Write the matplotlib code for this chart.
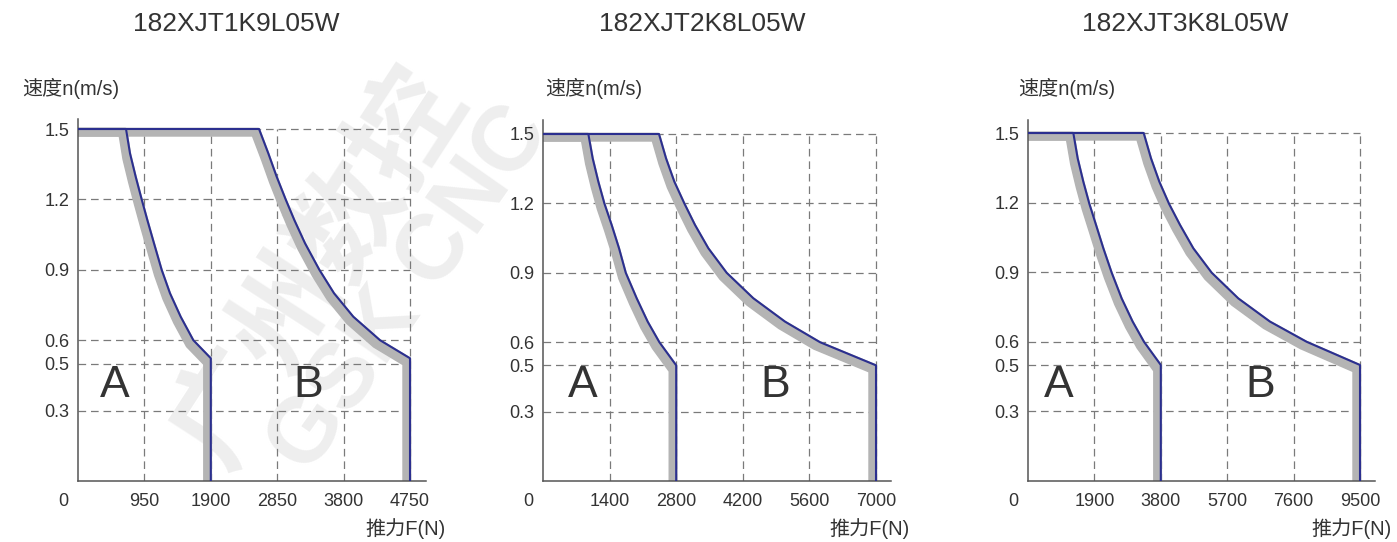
import matplotlib
matplotlib.use('Agg')
import matplotlib.pyplot as plt
import matplotlib.transforms as mtransforms
import numpy as np

plt.rcParams['lines.scale_dashes'] = False

W, H, DPI = 1397, 542, 100

# ---------------- data ----------------
titles = ['182XJT1K9L05W', '182XJT2K8L05W', '182XJT3K8L05W']
x_ticks_1 = [950, 1900, 2850, 3800, 4750]
x_ticks_2 = [1400, 2800, 4200, 5600, 7000]
x_ticks_3 = [1900, 3800, 5700, 7600, 9500]
y_ticks = [0.3, 0.5, 0.6, 0.9, 1.2, 1.5]
y_label = '速度n(m/s)'
x_label = '推力F(N)'
region_labels = ['A', 'B']
watermark_cn = '广州数控'
watermark_en = 'GSK CNC'

a1_force = [0, 687, 744, 825, 911, 992, 1087, 1197, 1316, 1469, 1650, 1900, 1900]
a1_speed = [1.5, 1.5, 1.396, 1.297, 1.2, 1.112, 1.013, 0.9, 0.8, 0.7, 0.6, 0.523, 0]
b1_force = [0, 2590, 2723, 2842, 2971, 3095, 3248, 3453, 3663, 3939, 4321, 4750, 4750]
b1_speed = [1.5, 1.5, 1.396, 1.297, 1.2, 1.112, 1.013, 0.9, 0.8, 0.7, 0.6, 0.523, 0]

a2_force = [0, 953, 1044, 1163, 1290, 1443, 1598, 1740, 1969, 2200, 2446, 2800, 2800]
a2_speed = [1.5, 1.5, 1.395, 1.294, 1.2, 1.107, 1.006, 0.9, 0.79, 0.689, 0.6, 0.5, 0]
b2_force = [0, 2438, 2586, 2761, 2971, 3195, 3476, 3861, 4421, 5087, 5823, 7000, 7000]
b2_speed = [1.5, 1.5, 1.395, 1.294, 1.2, 1.107, 1.006, 0.9, 0.79, 0.689, 0.6, 0.5, 0]

a3_force = [0, 1297, 1421, 1583, 1755, 1946, 2156, 2394, 2680, 2995, 3319, 3800, 3800]
a3_speed = [1.5, 1.5, 1.391, 1.29, 1.195, 1.104, 1.003, 0.898, 0.787, 0.687, 0.6, 0.5, 0]
b3_force = [0, 3310, 3519, 3758, 4035, 4349, 4731, 5255, 6018, 6925, 7974, 9500, 9500]
b3_speed = [1.5, 1.5, 1.391, 1.29, 1.195, 1.104, 1.003, 0.898, 0.787, 0.687, 0.6, 0.5, 0]

panels = [
    dict(title=titles[0], xt=x_ticks_1, A=(a1_force, a1_speed), B=(b1_force, b1_speed)),
    dict(title=titles[1], xt=x_ticks_2, A=(a2_force, a2_speed), B=(b2_force, b2_speed)),
    dict(title=titles[2], xt=x_ticks_3, A=(a3_force, a3_speed), B=(b3_force, b3_speed)),
]

# ---------------- layout (pixels) ----------------
layout = [
    dict(x0=78, xm=410, xr=426, y15=129, yt=119, tc=236, yl=22, xl=446, ax_=115, bx=308),
    dict(x0=543, xm=876, xr=891, y15=134, yt=120, tc=702, yl=545, xl=910, ax_=583, bx=775),
    dict(x0=1028, xm=1360, xr=1375, y15=133, yt=120, tc=1185, yl=1018, xl=1392, ax_=1059, bx=1260),
]
Y0 = 481

LATIN = 'Liberation Sans'
FAM = [LATIN, 'Noto Sans CJK SC', 'DejaVu Sans']
TXT = '#333333'
BLUE = '#2b2f8f'
GRAY = '#b4b4b4'
GRID = '#7a7a7a'
WM = '#eeeeee'

fig = plt.figure(figsize=(W / DPI, H / DPI), dpi=DPI)
fig.patch.set_facecolor('white')


def fx(px):
    return px / W


def fy(py):
    return 1 - py / H


# faint watermark behind everything
fig.text(fx(318), fy(268), watermark_cn, rotation=57, fontsize=80, fontweight='bold',
         color=WM, ha='center', va='center', family=['Noto Sans CJK SC'], zorder=-5)
fig.text(fx(410), fy(290), watermark_en, rotation=55, fontsize=66, fontweight='bold',
         color=WM, ha='center', va='center', family=[LATIN], zorder=-5)

for p, L in zip(panels, layout):
    xmax = p['xt'][-1]
    left = fx(L['x0'])
    width = (L['xr'] - L['x0']) / W
    bottom = 1 - Y0 / H
    height = (Y0 - L['yt']) / H
    ax = fig.add_axes([left, bottom, width, height])
    ax.set_facecolor('none')
    ax.set_xlim(0, xmax * (L['xr'] - L['x0']) / (L['xm'] - L['x0']))
    ax.set_ylim(0, 1.5 * (Y0 - L['yt']) / (Y0 - L['y15']))

    for s in ['top', 'right']:
        ax.spines[s].set_visible(False)
    for s in ['left', 'bottom']:
        ax.spines[s].set_color('#555555')
        ax.spines[s].set_linewidth(1.1)

    # dashed grid limited to data range
    ax.vlines(p['xt'], 0, 1.5, colors=GRID, linewidth=0.9,
              linestyles=[(0, (5.5, 3.5))], zorder=1)
    ax.hlines(y_ticks, 0, xmax, colors=GRID, linewidth=0.9,
              linestyles=[(0, (5.5, 3.5))], zorder=1)

    # curves: gray band offset down-left, blue edge on top
    for key in ['A', 'B']:
        f, v = p[key]
        for k in np.linspace(0.8, 5.6, 9):
            tr = mtransforms.offset_copy(ax.transData, fig=fig, x=-k, y=-k, units='dots')
            ax.plot(f, v, color=GRAY, lw=3.0, transform=tr, solid_capstyle='butt',
                    solid_joinstyle='round', zorder=2)
    for key in ['A', 'B']:
        f, v = p[key]
        ax.plot(f, v, color=BLUE, lw=1.5, solid_joinstyle='round',
                solid_capstyle='butt', zorder=3)

    # ticks
    ax.set_xticks(p['xt'])
    ax.set_xticklabels([str(t) for t in p['xt']])
    ax.set_yticks(y_ticks)
    ax.set_yticklabels([f'{t:.1f}' for t in y_ticks])
    ax.tick_params(axis='both', length=0, labelsize=13, labelcolor=TXT)
    ax.tick_params(axis='x', pad=8.5)
    ax.tick_params(axis='y', pad=6)
    for lab in ax.get_xticklabels() + ax.get_yticklabels():
        lab.set_family(LATIN)
    ax.annotate('0', xy=(0, 0), xycoords='data', xytext=(-10.5, -14.5),
                textcoords='offset points', ha='center', va='center',
                fontsize=13, color=TXT, family=LATIN)

    # region labels
    fig.text(fx(L['ax_']), fy(397), region_labels[0], fontsize=32, color=TXT,
             ha='center', va='baseline', family=LATIN)
    fig.text(fx(L['bx']), fy(397), region_labels[1], fontsize=32, color=TXT,
             ha='center', va='baseline', family=LATIN)

    # titles and axis labels
    fig.text(fx(L['tc']), fy(24), p['title'], fontsize=19, color=TXT,
             ha='center', va='center', family=LATIN)
    fig.text(fx(L['yl']), fy(88), y_label, fontsize=14.5, color=TXT,
             ha='left', va='center', family=FAM)
    fig.text(fx(L['xl']), fy(529), x_label, fontsize=14.5, color=TXT,
             ha='right', va='center', family=FAM)

fig.savefig('out.png', dpi=DPI, facecolor='white')
